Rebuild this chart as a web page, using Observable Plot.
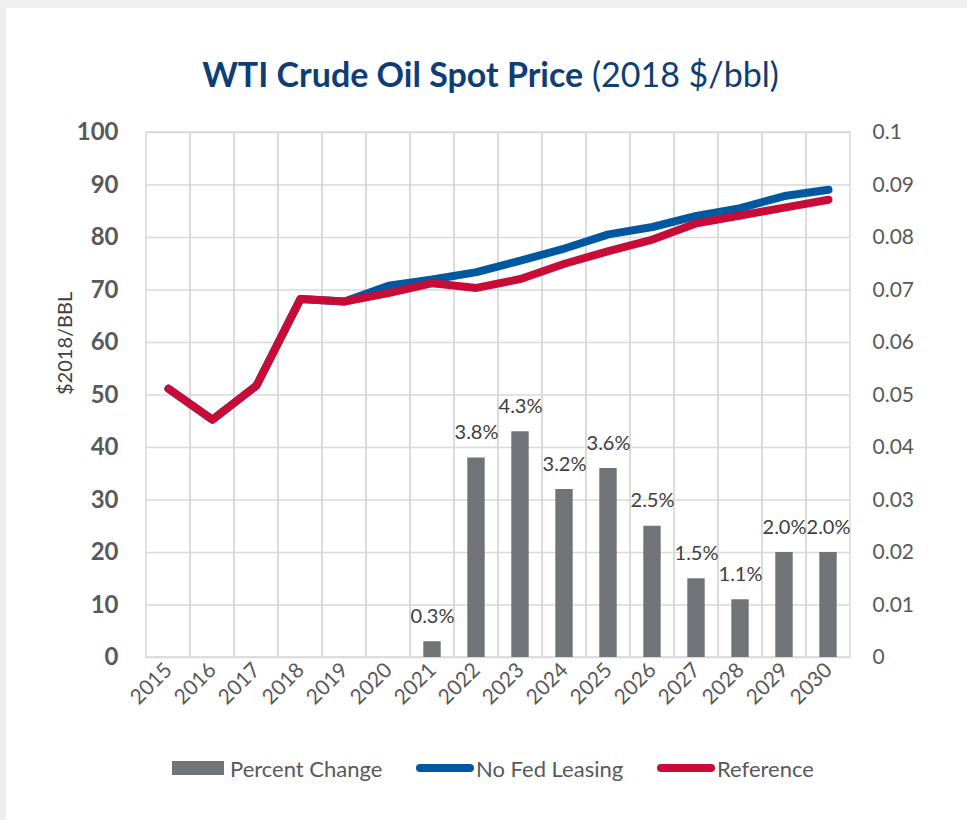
<!DOCTYPE html>
<html>
<head>
<meta charset="utf-8">
<script src="https://cdn.jsdelivr.net/npm/d3@7"></script>
<script src="https://cdn.jsdelivr.net/npm/@observablehq/plot@0.6"></script>
<style>
  html, body { margin: 0; padding: 0; background: #efefef; }
  body { width: 967px; height: 820px; position: relative; overflow: hidden; font-family: Lato, sans-serif; }
  #card { position: absolute; left: 6px; top: 8px; width: 961px; height: 812px; background: #fff; }
  #title { position: absolute; left: 0; top: 57px; width: 981px; text-align: center; font-size: 34px; line-height: 1; color: #0e3e74; white-space: nowrap; }
  #title b { font-weight: 700; }
  #chart { position: absolute; left: 0; top: 110px; }
  .leg { position: absolute; top: 756px; height: 24px; display: flex; align-items: center; font-size: 22px; color: #595959; white-space: nowrap; }
  .sw-bar { width: 52px; height: 14px; background: #707479; margin-right: 6px; }
  .sw-line { width: 58px; height: 8px; border-radius: 4px; margin-right: 2px; }
</style>
</head>
<body>
<div id="card"></div>
<div id="title"><b>WTI Crude Oil Spot Price</b> (2018 $/bbl)</div>
<div id="chart"></div>
<div class="leg" style="left:172px"><div class="sw-bar"></div>Percent Change</div>
<div class="leg" style="left:416px"><div class="sw-line" style="background:#0059a0"></div>No Fed Leasing</div>
<div class="leg" style="left:657px"><div class="sw-line" style="background:#c90c37"></div>Reference</div>
<script>
const years = ["2015","2016","2017","2018","2019","2020","2021","2022","2023","2024","2025","2026","2027","2028","2029","2030"];
const referencePrice = [51.2, 45.3, 51.8, 68.3, 67.8, 69.4, 71.3, 70.4, 72.1, 75.0, 77.4, 79.6, 82.7, 84.2, 85.7, 87.2];
const noFedLeasingPrice = [51.2, 45.3, 51.8, 68.3, 67.8, 70.8, 72.0, 73.4, 75.6, 77.9, 80.6, 82.0, 84.1, 85.6, 87.9, 89.1];
const pctYears = ["2021","2022","2023","2024","2025","2026","2027","2028","2029","2030"];
const pctChange = [0.003, 0.038, 0.043, 0.032, 0.036, 0.025, 0.015, 0.011, 0.020, 0.020];
const leftTicks = [0, 10, 20, 30, 40, 50, 60, 70, 80, 90, 100];
const rightTickLabels = ["0", "0.01", "0.02", "0.03", "0.04", "0.05", "0.06", "0.07", "0.08", "0.09", "0.1"];
const yLabel = "$2018/BBL";

const refData = years.map((y, i) => ({year: y, value: referencePrice[i]}));
const nflData = years.map((y, i) => ({year: y, value: noFedLeasingPrice[i]}));
const barData = pctYears.map((y, i) => ({year: y, pct: pctChange[i]}));

const gridColor = "#d9d9d9";

const chart = Plot.plot({
  width: 967,
  height: 637,
  marginTop: 22,
  marginBottom: 90,
  marginLeft: 145,
  marginRight: 117,
  style: {fontFamily: "Lato, sans-serif", background: "transparent"},
  x: {type: "band", domain: years, padding: 0},
  y: {domain: [0, 100]},
  marks: [
    Plot.gridY(leftTicks, {stroke: gridColor, strokeOpacity: 1, strokeWidth: 1.5}),
    Plot.cell(years, {x: d => d, fill: "none", stroke: gridColor, strokeWidth: 1.5}),
    Plot.barY(barData, {x: "year", y: d => d.pct * 1000, fill: "#707479", insetLeft: 13.3, insetRight: 13.3}),
    Plot.text(barData, {x: "year", y: d => d.pct * 1000, text: d => (d.pct * 100).toFixed(1) + "%", lineAnchor: "bottom", dy: -19, fontSize: 20, fill: "#404040"}),
    Plot.line(nflData, {x: "year", y: "value", stroke: "#0059a0", strokeWidth: 8, strokeLinecap: "round", strokeLinejoin: "round"}),
    Plot.line(refData, {x: "year", y: "value", stroke: "#c90c37", strokeWidth: 8, strokeLinecap: "round", strokeLinejoin: "round"}),
    Plot.axisY(leftTicks, {anchor: "left", tickSize: 0, tickPadding: 27, fontSize: 24, fontWeight: "bold", color: "#595959", label: null}),
    Plot.axisY(leftTicks, {anchor: "right", tickSize: 0, tickPadding: 22, fontSize: 21, color: "#595959", label: null, tickFormat: d => rightTickLabels[leftTicks.indexOf(d)]}),
    Plot.axisX({tickRotate: -45, tickSize: 0, tickPadding: 9, fontSize: 21, color: "#595959", label: null}),
    Plot.text([yLabel], {frameAnchor: "left", dx: -80, rotate: -90, fontSize: 20, fill: "#404040"})
  ]
});
document.getElementById("chart").appendChild(chart);
</script>
</body>
</html>
